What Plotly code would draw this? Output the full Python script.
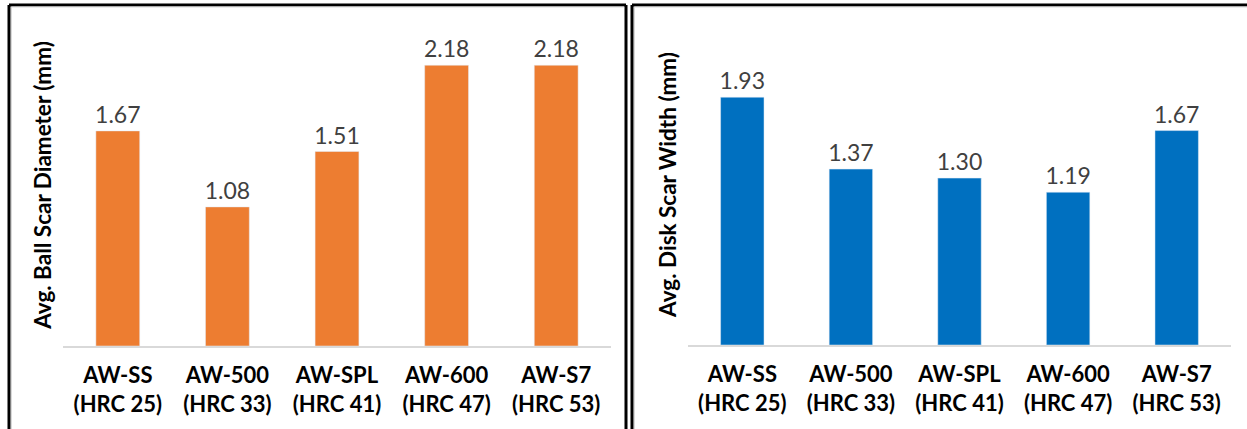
import plotly.graph_objects as go

# Wear-test results for five tool steels
categories = ["AW-SS<br>(HRC 25)", "AW-500<br>(HRC 33)", "AW-SPL<br>(HRC 41)",
              "AW-600<br>(HRC 47)", "AW-S7<br>(HRC 53)"]
ball_scar_diameter = [1.67, 1.08, 1.51, 2.18, 2.18]
disk_scar_width = [1.93, 1.37, 1.30, 1.19, 1.67]

W, H = 1247, 429
FONT = "Lato"
ORANGE = "#ED7D31"
BLUE = "#0070C0"


def px_x(x):
    return x / W


def px_y(y):
    return 1 - y / H


fig = go.Figure()

fig.add_trace(go.Bar(
    x=categories, y=ball_scar_diameter, marker_color=ORANGE,
    text=[f"{v:.2f}" for v in ball_scar_diameter], textposition="outside",
    textfont=dict(family=FONT, size=23, color="#404040"), constraintext="none",
    cliponaxis=False, xaxis="x", yaxis="y", showlegend=False,
))
fig.add_trace(go.Bar(
    x=categories, y=disk_scar_width, marker_color=BLUE,
    text=[f"{v:.2f}" for v in disk_scar_width], textposition="outside",
    textfont=dict(family=FONT, size=23, color="#404040"), constraintext="none",
    cliponaxis=False, xaxis="x2", yaxis="y2", showlegend=False,
))

xaxis_style = dict(
    showgrid=False, zeroline=False, showline=True, linecolor="#D9D9D9", linewidth=1.5,
    ticks="outside", ticklen=9, tickcolor="rgba(0,0,0,0)",
    tickfont=dict(family=FONT, size=22, color="#000000", weight="bold"),
)
yaxis_style = dict(
    range=[0, 2.5], showgrid=False, zeroline=False, showline=False,
    showticklabels=False, ticks="",
)

fig.update_layout(
    width=W, height=H,
    margin=dict(l=0, r=0, t=0, b=0),
    paper_bgcolor="white", plot_bgcolor="white",
    bargap=0.6,
    xaxis=dict(domain=[px_x(63), px_x(611)], anchor="y", **xaxis_style),
    yaxis=dict(domain=[px_y(346), px_y(24)], anchor="x",
               title=dict(text="<b>Avg. Ball Scar Diameter (mm)</b>",
                          font=dict(family=FONT, size=22.5, color="#000000"), standoff=4),
               **yaxis_style),
    xaxis2=dict(domain=[px_x(688), px_x(1231)], anchor="y2", **xaxis_style),
    yaxis2=dict(domain=[px_y(345), px_y(24)], anchor="x2",
                title=dict(text="<b>Avg. Disk Scar Width (mm)</b>",
                           font=dict(family=FONT, size=22.5, color="#000000"), standoff=4),
                **yaxis_style),
)

# Panel frames (open at the bottom / right edge of the page)
frame = dict(color="black", width=3)
shadow = dict(color="#D9D9D9", width=1)
lines = [
    (9, 5, 9, 440, frame), (9, 5, 626, 5, frame), (626, 5, 626, 440, frame),
    (11.5, 7, 11.5, 440, shadow), (11.5, 7, 624, 7, shadow),
    (632, 5, 632, 440, frame), (632, 5, 1260, 5, frame),
    (634.5, 7, 634.5, 440, shadow), (634.5, 7, 1260, 7, shadow),
]
for x0, y0, x1, y1, ln in lines:
    fig.add_shape(type="line", xref="paper", yref="paper",
                  x0=px_x(x0), y0=px_y(y0), x1=px_x(x1), y1=px_y(y1), line=ln)

fig.write_html("out.html")
